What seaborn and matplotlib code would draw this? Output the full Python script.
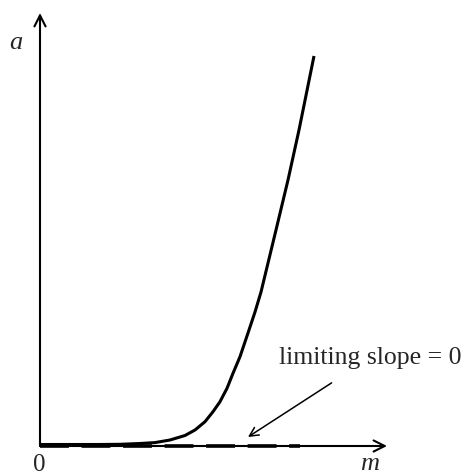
import numpy as np
import pandas as pd
import matplotlib
matplotlib.use('Agg')
import matplotlib.pyplot as plt
import seaborn as sns

# curve
m_curve = [0.00, 0.60, 0.80, 1.00, 1.15, 1.30, 1.45, 1.55, 1.65, 1.73, 1.80, 1.87, 1.93,
           2.00, 2.08, 2.15, 2.21, 2.36, 2.48, 2.59, 2.74]
a_curve = [0.015, 0.015, 0.017, 0.025, 0.034, 0.06, 0.105, 0.16, 0.243, 0.343, 0.443,
           0.577, 0.727, 0.893, 1.13, 1.34, 1.54, 2.16, 2.66, 3.16, 3.90]

# dashed limiting line (slope = 0)
m_limit = [0.00, 2.60]
a_limit = [0.00, 0.00]

annot_text = 'limiting slope = 0'

sns.set_style('white')
plt.rcParams['font.family'] = ['Liberation Serif', 'DejaVu Serif']

fig = plt.figure(figsize=(4.65, 4.76), dpi=100)
ax = fig.add_axes([0, 0, 1, 1])

curve_df = pd.DataFrame({'m': m_curve, 'a': a_curve})
limit_df = pd.DataFrame({'m': m_limit, 'a': a_limit})

sns.lineplot(data=limit_df, x='m', y='a', ax=ax, color='black', lw=2.6,
             dashes=False, linestyle=(0, (8, 3.5)), solid_capstyle='butt')
sns.lineplot(data=curve_df, x='m', y='a', ax=ax, color='black', lw=2.2, sort=False,
             solid_joinstyle='round', solid_capstyle='butt')

# axes with arrows
ax.annotate('', xy=(3.47, 0), xytext=(0, 0),
            arrowprops=dict(arrowstyle='->', lw=1.5, color='black',
                            mutation_scale=20, shrinkA=0, shrinkB=0))
ax.annotate('', xy=(0, 4.33), xytext=(0, 0),
            arrowprops=dict(arrowstyle='->', lw=1.5, color='black',
                            mutation_scale=20, shrinkA=0, shrinkB=0))

ax.text(-0.24, 4.03, 'a', fontsize=19, style='italic', ha='center', va='center')
ax.text(3.30, -0.18, 'm', fontsize=19, style='italic', ha='center', va='center')
ax.text(-0.01, -0.19, '0', fontsize=18, ha='center', va='center')

ax.annotate(annot_text, xy=(2.08, 0.09), xytext=(3.30, 0.88),
            fontsize=18.5, ha='center', va='center',
            arrowprops=dict(arrowstyle='->', lw=1.1, color='black',
                            mutation_scale=16, shrinkA=14, shrinkB=0))

ax.set_xlim(-0.40, 4.25)
ax.set_ylim(-0.30, 4.46)
ax.axis('off')

fig.savefig('out.png', dpi=100)
